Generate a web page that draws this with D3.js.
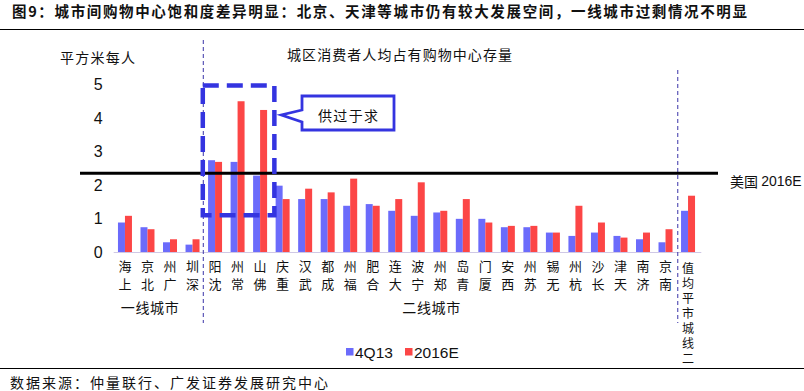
<!DOCTYPE html>
<html>
<head>
<meta charset="utf-8">
<script src="https://cdn.jsdelivr.net/npm/d3@7"></script>
<style>
  body { margin: 0; background: #fff; }
  svg { display: block; }
  text { fill: #111; }
  .vlabel { writing-mode: vertical-rl; text-orientation: upright; direction: rtl; unicode-bidi: bidi-override; }
</style>
</head>
<body>
<div id="chart"></div>
<script>
// chart data
const cities = ["上海", "北京", "广州", "深圳", "沈阳", "常州", "佛山", "重庆", "武汉", "成都", "福州", "合肥", "大连",
  "宁波", "郑州", "青岛", "厦门", "西安", "苏州", "无锡", "杭州", "长沙", "天津", "济南", "南京", "二线城市平均值"];
const tier1 = ["上海", "北京", "广州", "深圳"];
const tier2 = cities.slice(4, 25);
const q13 = [0.88, 0.74, 0.29, 0.22, 2.74, 2.69, 2.28, 1.98, 1.58, 1.58, 1.38, 1.43, 1.23,
  1.08, 1.18, 0.99, 0.99, 0.74, 0.74, 0.58, 0.48, 0.58, 0.48, 0.38, 0.29, 1.23];
const e2016 = [1.08, 0.68, 0.38, 0.38, 2.69, 4.5, 4.24, 1.58, 1.89, 1.78, 2.19, 1.38, 1.58,
  2.08, 1.23, 1.58, 0.88, 0.78, 0.78, 0.58, 1.38, 0.88, 0.43, 0.58, 0.68, 1.68];
const seriesNames = ["4Q13", "2016E"];
const yTicks = [0, 1, 2, 3, 4, 5];
const usLevel = 2.35;
const oversupply = ["沈阳", "佛山"];
const oversupplyRange = [1.1, 4.97];

const width = 804, height = 391;
const colors = { "4Q13": "#6b6bfb", "2016E": "#fc4646" };
const cjk = "'Noto Sans CJK SC', sans-serif";
const latin = "'Liberation Sans', Arial, sans-serif";

const svg = d3.select("#chart").append("svg")
    .attr("width", width)
    .attr("height", height);

let x = d3.scaleBand()
    .domain(cities)
    .range([113.7, 699.3]);

let xs = d3.scaleBand()
    .domain(seriesNames)
    .range([0, x.bandwidth()])
    .paddingOuter(0.61);

let y = d3.scaleLinear()
    .domain([0, 5])
    .range([252, 84.5]);

// title + rules
svg.append("text")
    .attr("x", 12).attr("y", 17)
    .attr("font-family", cjk).attr("font-size", 14.5).attr("font-weight", "bold")
    .attr("textLength", 735).attr("lengthAdjust", "spacing")
    .text("图9：城市间购物中心饱和度差异明显：北京、天津等城市仍有较大发展空间，一线城市过剩情况不明显");
svg.append("line").attr("x1", 0).attr("x2", width).attr("y1", 29.5).attr("y2", 29.5)
    .attr("stroke", "#000").attr("stroke-width", 1.2);
svg.append("line").attr("x1", 0).attr("x2", width).attr("y1", 368.5).attr("y2", 368.5)
    .attr("stroke", "#000").attr("stroke-width", 1.2);
svg.append("text")
    .attr("x", 10).attr("y", 388)
    .attr("font-family", cjk).attr("font-size", 14)
    .attr("textLength", 318).attr("lengthAdjust", "spacing")
    .text("数据来源：仲量联行、广发证券发展研究中心");

// axis captions
svg.append("text")
    .attr("x", 60).attr("y", 63)
    .attr("font-family", cjk).attr("font-size", 14)
    .attr("textLength", 75).attr("lengthAdjust", "spacing")
    .text("平方米每人");
svg.append("text")
    .attr("x", 287).attr("y", 60)
    .attr("font-family", cjk).attr("font-size", 14)
    .attr("textLength", 225).attr("lengthAdjust", "spacing")
    .text("城区消费者人均占有购物中心存量");

// y axis (labels only)
svg.append("g")
    .attr("transform", `translate(${x.range()[0]},0)`)
    .call(d3.axisLeft(y).tickValues(yTicks).tickFormat(d3.format("d")).tickSize(0).tickPadding(11))
    .call(g => g.select(".domain").remove())
    .call(g => g.selectAll("text")
        .attr("font-family", latin).attr("font-size", 16).attr("fill", "#111"));

// bars
svg.append("g")
    .selectAll("g")
    .data(cities.map((c, i) => ({ city: c, vals: [
        { s: "4Q13", v: q13[i] }, { s: "2016E", v: e2016[i] }] })))
    .join("g")
        .attr("transform", d => `translate(${x(d.city)},0)`)
    .selectAll("rect")
    .data(d => d.vals)
    .join("rect")
        .attr("x", d => xs(d.s))
        .attr("y", d => y(d.v))
        .attr("width", xs.bandwidth())
        .attr("height", d => y(0) - y(d.v))
        .attr("fill", d => colors[d.s]);

// baseline
svg.append("line")
    .attr("x1", x.range()[0]).attr("x2", x.range()[1] + 2)
    .attr("y1", y(0) + 0.5).attr("y2", y(0) + 0.5)
    .attr("stroke", "#cfc8e6").attr("stroke-width", 1);

// category labels: upright chars, reading bottom to top
const shortCities = cities.filter(c => c.length <= 2);
const longCities = cities.filter(c => c.length > 2);
svg.append("g")
    .attr("font-family", cjk)
    .selectAll("text")
    .data(shortCities)
    .join("text")
        .attr("text-anchor", "middle")
        .attr("font-size", 13)
    .each(function (c) {
        const chars = Array.from(c);
        const n = chars.length;
        const t = d3.select(this);
        chars.forEach((ch, j) => {
            t.append("tspan")
                .attr("x", x(c) + x.bandwidth() / 2)
                .attr("y", 266.5 + (n - 1 - j) * 17.5 + 4.7)
                .text(ch);
        });
    });
svg.append("g")
    .selectAll("text")
    .data(longCities)
    .join("text")
        .attr("class", "vlabel")
        .attr("x", d => x(d) + x.bandwidth() / 2)
        .attr("y", 315)
        .attr("text-anchor", "middle")
        .attr("font-family", cjk).attr("font-size", 12)
        .attr("letter-spacing", 3)
        .text(d => d);

// group labels
const groupCenter = g => (x(g[0]) + x(g[g.length - 1]) + x.bandwidth()) / 2;
[[tier1, "一线城市"], [tier2, "二线城市"]].forEach(([g, label]) => {
    svg.append("text")
        .attr("x", groupCenter(g) - 9).attr("y", 307)
        .attr("text-anchor", "middle").attr("dominant-baseline", "central")
        .attr("font-family", cjk).attr("font-size", 14)
        .attr("textLength", 58).attr("lengthAdjust", "spacing")
        .text(label);
});

// group separators
svg.append("line")
    .attr("x1", x("沈阳") - 0.5).attr("x2", x("沈阳") - 0.5)
    .attr("y1", 40).attr("y2", 323)
    .attr("stroke", "#3a33a8").attr("stroke-width", 1).attr("stroke-dasharray", "4,3");
svg.append("line")
    .attr("x1", x("二线城市平均值") + 1).attr("x2", x("二线城市平均值") + 1)
    .attr("y1", 70).attr("y2", 323)
    .attr("stroke", "#3a33a8").attr("stroke-width", 1).attr("stroke-dasharray", "4,3");

// US reference line
svg.append("line")
    .attr("x1", 80).attr("x2", 718)
    .attr("y1", y(usLevel)).attr("y2", y(usLevel))
    .attr("stroke", "#000").attr("stroke-width", 3);
svg.append("text")
    .attr("x", 730).attr("y", y(usLevel) + 8)
    .attr("dominant-baseline", "central")
    .attr("font-size", 14)
    .call(t => t.append("tspan").attr("font-family", cjk).text("美国 "))
    .call(t => t.append("tspan").attr("font-family", latin).text("2016E"));

// oversupply box
const bx0 = x(oversupply[0]) - 1;
const bx1 = x(oversupply[1]) + x.bandwidth() + 3;
svg.append("rect")
    .attr("x", bx0).attr("y", y(oversupplyRange[1]))
    .attr("width", bx1 - bx0)
    .attr("height", y(oversupplyRange[0]) - y(oversupplyRange[1]))
    .attr("fill", "none").attr("stroke", "#3434e0").attr("stroke-width", 4.5)
    .attr("stroke-dasharray", "16,8");

// callout
const cx0 = 302, cx1 = 394, cy0 = 96, cy1 = 130;
svg.append("path")
    .attr("d", `M${cx0},${cy0} L${cx1},${cy0} L${cx1},${cy1} L${cx0},${cy1} L${cx0},${cy1 - 8}
        L${bx1 + 7},${115} L${cx0},${cy0 + 14} Z`)
    .attr("fill", "#fff").attr("stroke", "#3434e0").attr("stroke-width", 2.8)
    .attr("stroke-linejoin", "miter");
svg.append("text")
    .attr("x", (cx0 + cx1) / 2).attr("y", 115)
    .attr("text-anchor", "middle").attr("dominant-baseline", "central")
    .attr("font-family", cjk).attr("font-size", 14)
    .attr("textLength", 60).attr("lengthAdjust", "spacing")
    .text("供过于求");

// legend
const legend = svg.append("g")
    .selectAll("g")
    .data(seriesNames)
    .join("g")
        .attr("transform", (d, i) => `translate(${[346, 405][i]},348)`);
legend.append("rect")
    .attr("width", 7.5).attr("height", 7.5)
    .attr("fill", d => colors[d]);
legend.append("text")
    .attr("x", 9).attr("y", 4)
    .attr("dominant-baseline", "central")
    .attr("font-family", latin).attr("font-size", 15.5)
    .text(d => d);
</script>
</body>
</html>
